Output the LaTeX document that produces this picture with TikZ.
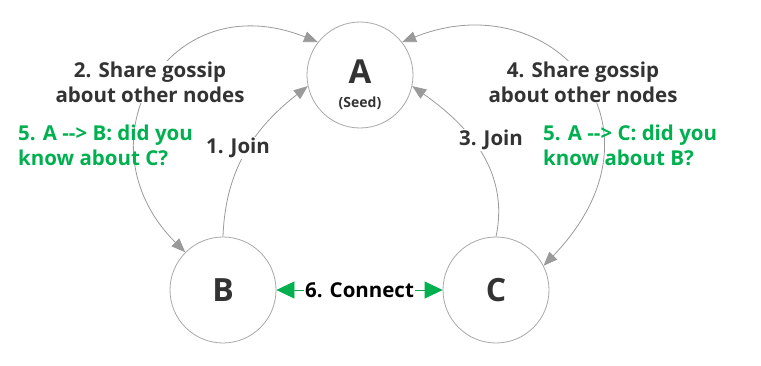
\documentclass[tikz,border=0pt]{standalone}
\usepackage{fontspec}
\setmainfont{Open Sans}
\usetikzlibrary{arrows.meta,positioning}
\definecolor{ink}{HTML}{333333}
\definecolor{wire}{HTML}{9A9A9A}
\definecolor{rim}{HTML}{A8A8A8}
\definecolor{hint}{HTML}{00B050}

\begin{document}
\begin{tikzpicture}[x=1pt,y=1pt,
  peer/.style={circle,draw=rim,line width=0.8pt,minimum size=106pt,inner sep=0pt,
    text=ink,font=\fontsize{32}{32}\selectfont\bfseries},
  arc/.style={draw=wire,line width=0.8pt,-{Triangle[length=14pt,width=11pt,fill=wire]}},
  both/.style={arc,{Triangle[length=14pt,width=11pt,fill=wire]}-{Triangle[length=14pt,width=11pt,fill=wire]}},
  tag/.style={fill=white,inner sep=1pt,text=ink,align=center,
    font=\fontsize{20.5}{25}\selectfont\bfseries},
  hintnote/.style={anchor=west,inner sep=0pt,text=hint,align=left,
    font=\fontsize{20.5}{25}\selectfont\bfseries}]
  \useasboundingbox (0,0) rectangle (761,365);

  % Peers
  \node[peer] (A) at (360,290) {};
  \node[text=ink,font=\fontsize{33}{33}\selectfont\bfseries] (Aname) at (360,293) {A};
  \node[text=ink,font=\fontsize{14}{14}\selectfont\bfseries] (seed) at (360,262) {(Seed)};
  \node[peer] (B) at (223,75) {B};
  \node[peer] (C) at (496,75) {C};

  % Join
  \draw[arc] (B.north) to[out=88,in=218] (A.192);
  \draw[arc] (C.north) to[out=78,in=-35] (A.348);
  \node[tag] (joinB) at (238,217) {1. Join};
  \node[tag] (joinC) at (491,225) {3. Join};

  % Gossip
  \draw[both] (B.135) .. controls +(-110,110) and +(-150,60) .. (A.142);
  \draw[both] (C.27) .. controls +(135,140) and +(150,60) .. (A.38);
  \node[tag] (gossipB) at (150,283) {2. Share gossip\\about other nodes};
  \node[tag] (gossipC) at (583,283) {4. Share gossip\\about other nodes};

  % Introductions
  \node[hintnote] (introB) at (18,220) {5. A {-}{-}> B: did you\\know about C?};
  \node[hintnote] (introC) at (543,220) {5. A {-}{-}> C: did you\\know about B?};

  % Connect
  \draw[hint,line width=0.8pt,{Triangle[length=18pt,width=17pt]}-{Triangle[length=18pt,width=17pt]}] (B.east) -- (C.west)
    node[midway,fill=white,inner sep=1pt,text=black,font=\fontsize{20.5}{25}\selectfont\bfseries] (link) {6. Connect};
\end{tikzpicture}
\end{document}
